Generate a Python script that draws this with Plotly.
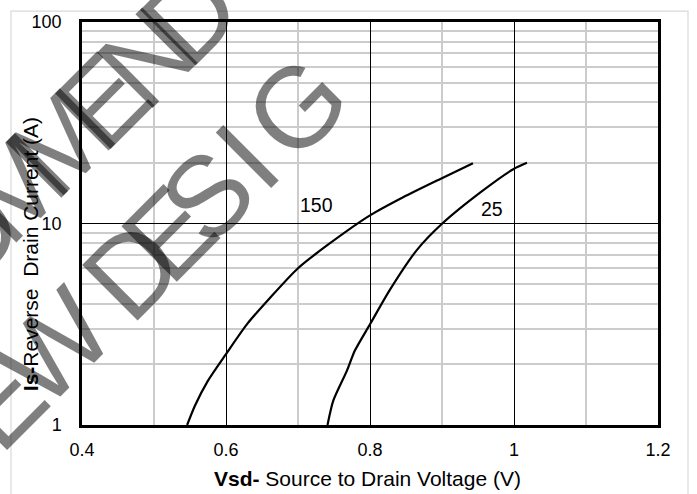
import math
import plotly.graph_objects as go

# ---- data ----
v_150 = [0.546, 0.557, 0.575, 0.600, 0.629, 0.661, 0.700, 0.744, 0.800, 0.846, 0.897, 0.943]
i_150 = [1.0, 1.25, 1.66, 2.25, 3.16, 4.27, 6.0, 7.96, 10.97, 13.5, 16.6, 19.9]
v_25 = [0.741, 0.749, 0.768, 0.779, 0.800, 0.828, 0.865, 0.900, 0.957, 0.999, 1.018]
i_25 = [1.0, 1.32, 1.86, 2.34, 3.16, 4.71, 7.38, 9.97, 14.6, 18.6, 20.0]

curve_labels = ["150", "25"]
label_x = [0.726, 0.969]
label_y = [12.3, 11.8]

x_ticks = [0.4, 0.6, 0.8, 1.0, 1.2]
x_tick_text = ["0.4", "0.6", "0.8", "1", "1.2"]
x_minor = [0.5, 0.7, 0.9, 1.1]
y_ticks = [1, 10, 100]
y_minor = [2, 3, 4, 5, 6, 7, 8, 9, 20, 30, 40, 50, 60, 70, 80, 90]

x_title = "<b>Vsd-</b> Source to Drain Voltage (V)"
y_title = "<b>Is-</b>Reverse\u00a0 Drain Current (A)"

# watermark (visible part of "NOT RECOMMENDED / FOR NEW DESIGNS"), one glyph per entry
wm_line1 = "COMMEND"
wm_line2 = "EWDESIG"

# ---- layout helpers ----
W, H = 697, 494
L, R, T, B = 82, 39, 18, 69
PW, PH = W - L - R, H - T - B


def px(xp):
    return (xp - L) / PW


def py(yp):
    return (T + PH - yp) / PH


FONT = "Liberation Sans, Arial, sans-serif"
WM_FONT = "Liberation Sans Narrow, Arial Narrow, Liberation Sans, sans-serif"

fig = go.Figure()
for v, i in [(v_150, i_150), (v_25, i_25)]:
    fig.add_trace(go.Scatter(x=v, y=i, mode="lines",
                             line=dict(color="black", width=2.2, shape="spline", smoothing=0.7),
                             showlegend=False, hoverinfo="skip"))

annotations = []
for t, xv, yv in zip(curve_labels, label_x, label_y):
    annotations.append(dict(x=xv, y=math.log10(yv), xref="x", yref="y", text=t, showarrow=False,
                            xanchor="center", yanchor="middle",
                            font=dict(family=FONT, size=19.5, color="black")))

annotations.append(dict(x=px(367), y=py(479), xref="paper", yref="paper", text=x_title,
                        xanchor="center", yanchor="middle",
                        showarrow=False, font=dict(family=FONT, size=21, color="black")))
annotations.append(dict(x=px(30), y=py(252.5), xref="paper", yref="paper", text=y_title,
                        xanchor="center", yanchor="middle",
                        textangle=-90, showarrow=False, font=dict(family=FONT, size=21, color="black")))

# watermark glyph placement along two 45-degree lines (s = along, t = across, in px)
wm_s1 = [-250, -185, -120, -56, 4, 66, 126]
wm_s2 = [-284, -207, -97, -44, 10, 66, 136]
wm_t = [142, 283]
r2 = math.sqrt(2)
for text, s_list, t in [(wm_line1, wm_s1, wm_t[0]), (wm_line2, wm_s2, wm_t[1])]:
    for ch, s in zip(text, s_list):
        cx, cy = (s + t) / r2, (t - s) / r2
        annotations.append(dict(x=px(cx), y=py(cy), xref="paper", yref="paper", text=ch,
                                textangle=-45, showarrow=False, xanchor="center", yanchor="middle",
                                font=dict(family=WM_FONT, size=114, color="rgba(0,0,0,0.5)")))

fig.update_layout(
    width=W, height=H,
    margin=dict(l=L, r=R, t=T, b=B),
    paper_bgcolor="white", plot_bgcolor="white",
    annotations=annotations,
    shapes=[dict(type="rect", xref="paper", yref="paper", x0=px(11), x1=px(688), y0=py(560), y1=py(7),
                 line=dict(color="#d9d9d9", width=1.2), layer="below")],
    xaxis=dict(range=[0.4, 1.2], tickvals=x_ticks, ticktext=x_tick_text,
               showgrid=True, gridcolor="black", gridwidth=1,
               minor=dict(tickvals=x_minor, showgrid=True, gridcolor="#cccccc", gridwidth=1.5),
               showline=True, linecolor="black", linewidth=2.5, mirror=True,
               ticks="", ticklabelstandoff=7, zeroline=False,
               tickfont=dict(family=FONT, size=18, color="black")),
    yaxis=dict(type="log", range=[0, 2], tickvals=y_ticks,
               showgrid=True, gridcolor="black", gridwidth=1,
               minor=dict(tickvals=y_minor, showgrid=True, gridcolor="#cccccc", gridwidth=1.5),
               showline=True, linecolor="black", linewidth=2.5, mirror=True,
               ticks="", ticklabelstandoff=14, zeroline=False,
               tickfont=dict(family=FONT, size=18, color="black")),
)

fig.write_html("out.html", config={"displayModeBar": False},
               post_script="document.body.style.margin='0px';")
